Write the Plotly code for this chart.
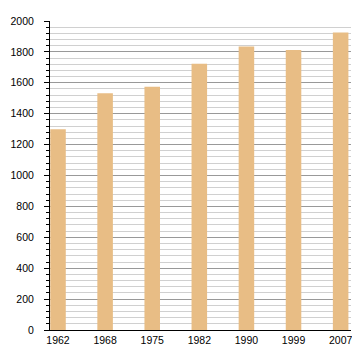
import plotly.graph_objects as go

years = ["1962", "1968", "1975", "1982", "1990", "1999", "2007"]
population = [1300, 1532, 1575, 1723, 1835, 1813, 1925]
y_ticks = [0, 200, 400, 600, 800, 1000, 1200, 1400, 1600, 1800, 2000]

# The page body has an 8px margin; size/margins compensate so the plot area
# lands at x 50..351, y 21..330 in the 360x360 window.
fig = go.Figure(
    go.Bar(
        x=years,
        y=population,
        marker=dict(color="#E8BD85", line=dict(width=0)),
        width=0.33,
        hoverinfo="x+y",
    )
)

fig.update_layout(
    width=344,
    height=344,
    margin=dict(l=42, r=1, t=13, b=22, pad=0),
    paper_bgcolor="white",
    plot_bgcolor="white",
    showlegend=False,
    font=dict(family="Liberation Sans, Arial, sans-serif", size=10.5, color="#000"),
)

fig.update_xaxes(
    type="category",
    range=[-0.17, 6.22],
    showline=True,
    linecolor="black",
    linewidth=1,
    ticks="",
    showgrid=False,
    zeroline=False,
    ticklabelstandoff=0,
    automargin=False,
)

fig.update_yaxes(
    range=[0, 2000],
    tickvals=y_ticks,
    ticktext=[str(v) for v in y_ticks],
    showline=True,
    linecolor="black",
    linewidth=1,
    ticks="outside",
    ticklen=5,
    tickcolor="black",
    showgrid=True,
    gridcolor="#999999",
    gridwidth=1,
    zeroline=False,
    ticklabelstandoff=8,
    automargin=False,
    minor=dict(
        dtick=40,
        tick0=0,
        ticks="outside",
        ticklen=3,
        tickcolor="black",
        showgrid=True,
        gridcolor="#d0d0d0",
        gridwidth=1,
    ),
)

fig.write_html("out.html")
